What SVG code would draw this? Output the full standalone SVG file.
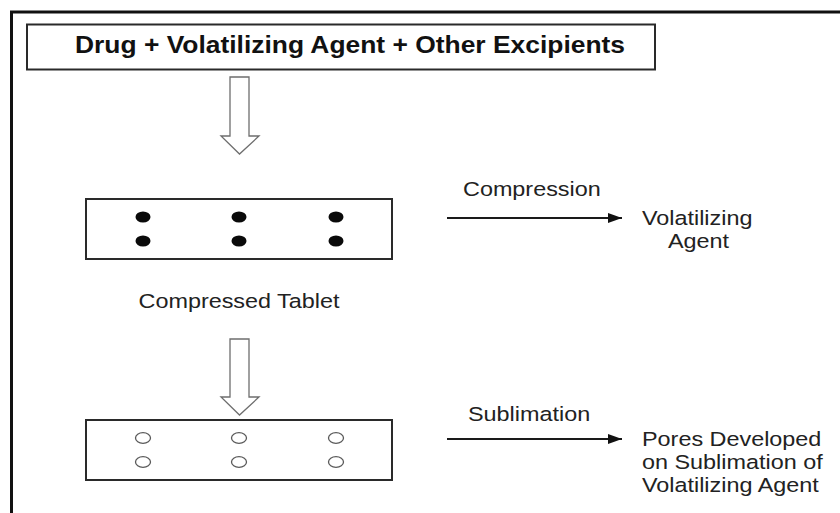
<svg xmlns="http://www.w3.org/2000/svg" width="840" height="513" viewBox="0 0 840 513">
  <style>
    .frame { fill: none; stroke: #111; stroke-width: 3; }
    .box { fill: #fff; stroke: #2a2a2a; stroke-width: 2; }
    .hollow { fill: #fff; stroke: #6e6e6e; stroke-width: 1.3; stroke-linejoin: miter; }
    .conn { fill: none; stroke: #1a1a1a; stroke-width: 1.8; }
    .dot { fill: #0a0a0a; }
    .pore { fill: none; stroke: #5a5a5a; stroke-width: 1.3; }
    .title { font-family: "Liberation Sans", Arial, sans-serif; font-weight: bold; font-size: 23px; fill: #111; }
    .label { font-family: "Liberation Sans", Arial, sans-serif; font-size: 19.5px; fill: #222; }
  </style>
  <defs>
    <marker id="head" markerWidth="14" markerHeight="10" refX="14" refY="5" orient="auto" markerUnits="userSpaceOnUse">
      <path d="M0,0 L14,5 L0,10 Z" fill="#111"/>
    </marker>
  </defs>

  <rect width="840" height="513" fill="#fff"/>

  <!-- page frame: top and left rules -->
  <path class="frame" d="M11.5,513 L11.5,12 L840,12"/>

  <g id="ingredients">
    <rect class="box" x="27" y="24.5" width="628" height="45"/>
    <text class="title" x="75" y="53" textLength="550" lengthAdjust="spacingAndGlyphs">Drug + Volatilizing Agent + Other Excipients</text>
  </g>

  <g id="compressed-tablet">
    <rect class="box" x="86" y="199" width="306" height="60"/>
    <ellipse class="dot" cx="143" cy="217" rx="7.5" ry="5.5"/>
    <ellipse class="dot" cx="143" cy="241" rx="7.5" ry="5.5"/>
    <ellipse class="dot" cx="239" cy="217" rx="7.5" ry="5.5"/>
    <ellipse class="dot" cx="239" cy="241" rx="7.5" ry="5.5"/>
    <ellipse class="dot" cx="336" cy="217" rx="7.5" ry="5.5"/>
    <ellipse class="dot" cx="336" cy="241" rx="7.5" ry="5.5"/>
    <text class="label" text-anchor="middle" transform="translate(239 308) scale(1.2 1)">Compressed Tablet</text>
  </g>

  <g id="porous-tablet">
    <rect class="box" x="86" y="420" width="306" height="60"/>
    <ellipse class="pore" cx="143" cy="438" rx="7.5" ry="5.3"/>
    <ellipse class="pore" cx="143" cy="462" rx="7.5" ry="5.3"/>
    <ellipse class="pore" cx="239" cy="438" rx="7.5" ry="5.3"/>
    <ellipse class="pore" cx="239" cy="462" rx="7.5" ry="5.3"/>
    <ellipse class="pore" cx="336" cy="438" rx="7.5" ry="5.3"/>
    <ellipse class="pore" cx="336" cy="462" rx="7.5" ry="5.3"/>
  </g>

  <g id="volatilizing-agent">
    <text class="label" transform="translate(642 225) scale(1.2 1)">Volatilizing</text>
    <text class="label" transform="translate(668 248) scale(1.2 1)">Agent</text>
  </g>

  <g id="pores-developed">
    <text class="label" transform="translate(642 446) scale(1.2 1)">Pores Developed</text>
    <text class="label" transform="translate(642 469) scale(1.2 1)">on Sublimation of</text>
    <text class="label" transform="translate(642 492) scale(1.2 1)">Volatilizing Agent</text>
  </g>

  <g id="connectors">
    <!-- hollow block arrows between stages -->
    <path class="hollow" d="M230,77 L249,77 L249,136 L259,136 L239.5,154 L221,136 L230,136 Z"/>
    <path class="hollow" d="M230,339 L249,339 L249,397 L259,397 L239.5,415 L221,397 L230,397 Z"/>
    <!-- process arrows -->
    <line class="conn" x1="447" y1="218" x2="622" y2="218" marker-end="url(#head)"/>
    <text class="label" transform="translate(463 196) scale(1.2 1)">Compression</text>
    <line class="conn" x1="447" y1="439" x2="622" y2="439" marker-end="url(#head)"/>
    <text class="label" transform="translate(468 421) scale(1.2 1)">Sublimation</text>
  </g>
</svg>
